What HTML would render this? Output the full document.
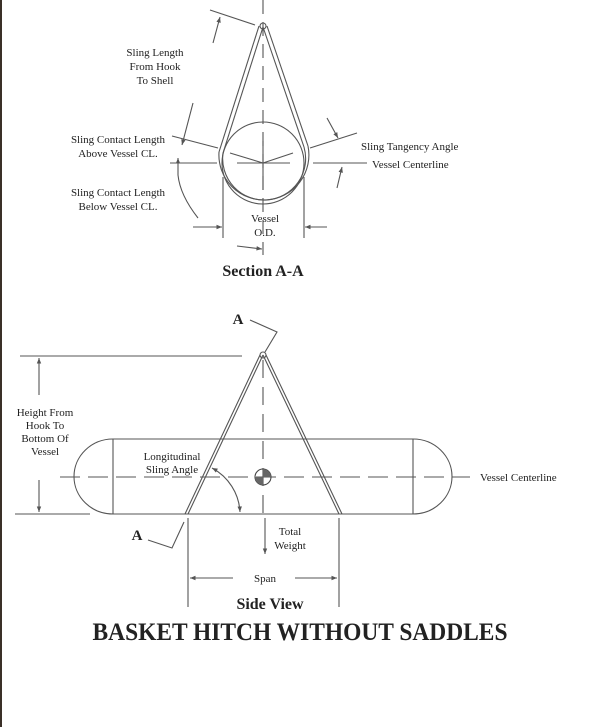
<!DOCTYPE html>
<html><head><meta charset="utf-8"><style>
html,body{margin:0;padding:0;background:#fff;}
svg{display:block;}
text{font-family:"Liberation Serif",serif;fill:#222;}
</style></head><body>
<svg width="600" height="727" viewBox="0 0 600 727" xmlns="http://www.w3.org/2000/svg">
<defs>
<marker id="ar" viewBox="0 0 10 10" refX="10" refY="5" markerWidth="7" markerHeight="5" orient="auto-start-reverse"><path d="M0,1 L10,5 L0,9 z" fill="#555"/></marker>
</defs>
<rect x="0" y="0" width="2" height="727" fill="#3a3028"/>
<g stroke="#555" stroke-width="1.1" fill="none">
<!-- Section A-A -->
<line x1="263" y1="0" x2="263" y2="255" stroke-dasharray="14,8"/>
<circle cx="263" cy="163" r="41"/>
<path d="M223,153 A41.5,41.5 0 1 0 304,147" />
<path d="M219,152 A45,45 0 1 0 308,146" />
<line x1="263" y1="27" x2="223" y2="153"/>
<line x1="263" y1="27" x2="304" y2="147"/>
<line x1="259" y1="26" x2="219" y2="152"/>
<line x1="267" y1="26" x2="308" y2="146"/>
<circle cx="263" cy="26" r="3"/>
<line x1="170" y1="163" x2="217" y2="163"/>
<line x1="237" y1="163" x2="290" y2="163"/>
<line x1="313" y1="163" x2="367" y2="163"/>
<line x1="263" y1="141" x2="263" y2="190"/>
<line x1="263" y1="163" x2="230" y2="153"/>
<line x1="263" y1="163" x2="293" y2="153"/>
<line x1="172" y1="136" x2="218" y2="148"/>
<line x1="310" y1="148" x2="357" y2="133"/>
<line x1="210" y1="10" x2="255" y2="25"/>
<line x1="213" y1="43" x2="220" y2="17" marker-end="url(#ar)"/>
<line x1="193" y1="103" x2="182" y2="145" marker-end="url(#ar)"/>
<line x1="178" y1="175" x2="178" y2="158" marker-end="url(#ar)"/>
<path d="M198,218 Q180,195 178,175"/>
<line x1="327" y1="118" x2="338" y2="138" marker-end="url(#ar)"/>
<line x1="337" y1="188" x2="342" y2="167" marker-end="url(#ar)"/>
<line x1="223" y1="177" x2="223" y2="238"/>
<line x1="304" y1="177" x2="304" y2="238"/>
<line x1="193" y1="227" x2="222" y2="227" marker-end="url(#ar)"/>
<line x1="327" y1="227" x2="305" y2="227" marker-end="url(#ar)"/>
<line x1="237" y1="246" x2="262" y2="249" marker-end="url(#ar)"/>
<!-- Side view -->
<path d="M113,439 L413,439 A39,37.5 0 0 1 413,514 L113,514 A39,37.5 0 0 1 113,439 Z"/>
<line x1="113" y1="439" x2="113" y2="514"/>
<line x1="413" y1="439" x2="413" y2="514"/>
<line x1="60" y1="477" x2="470" y2="477" stroke-dasharray="20,8"/>
<line x1="263" y1="360" x2="263" y2="520" stroke-dasharray="18,9"/>
<circle cx="263" cy="355" r="3"/>
<line x1="263" y1="355" x2="188" y2="514"/>
<line x1="263" y1="355" x2="339" y2="514"/>
<line x1="260" y1="355" x2="185" y2="514"/>
<line x1="266" y1="355" x2="342" y2="514"/>
<circle cx="263" cy="477" r="8" stroke="#444"/>
<path d="M263,477 L263,469 A8,8 0 0 1 271,477 Z M263,477 L263,485 A8,8 0 0 1 255,477 Z" fill="#666" stroke="none"/>
<line x1="20" y1="356" x2="242" y2="356"/>
<line x1="15" y1="514" x2="90" y2="514"/>
<line x1="39" y1="395" x2="39" y2="358" marker-end="url(#ar)"/>
<line x1="39" y1="480" x2="39" y2="512" marker-end="url(#ar)"/>
<path d="M212,468 A53,53 0 0 1 240,512" marker-start="url(#ar)" marker-end="url(#ar)"/>
<line x1="265" y1="518" x2="265" y2="554" marker-end="url(#ar)"/>
<line x1="188" y1="518" x2="188" y2="607"/>
<line x1="339" y1="518" x2="339" y2="607"/>
<line x1="233" y1="578" x2="190" y2="578" marker-end="url(#ar)"/>
<line x1="295" y1="578" x2="337" y2="578" marker-end="url(#ar)"/>
<polyline points="250,320 277,332 265,352"/>
<polyline points="148,540 172,548 184,522"/>
</g>
<g font-size="11" text-anchor="middle">
<text x="155" y="56">Sling Length</text>
<text x="155" y="70">From Hook</text>
<text x="155" y="84">To Shell</text>
<text x="118" y="143">Sling Contact Length</text>
<text x="118" y="157">Above Vessel CL.</text>
<text x="118" y="196">Sling Contact Length</text>
<text x="118" y="210">Below Vessel CL.</text>
<text x="265" y="222">Vessel</text>
<text x="265" y="236">O.D.</text>
<text x="45" y="416">Height From</text>
<text x="45" y="429">Hook To</text>
<text x="45" y="442">Bottom Of</text>
<text x="45" y="455">Vessel</text>
<text x="172" y="460">Longitudinal</text>
<text x="172" y="473">Sling Angle</text>
<text x="290" y="535">Total</text>
<text x="290" y="549">Weight</text>
<text x="265" y="582">Span</text>
</g>
<g font-size="11">
<text x="361" y="150">Sling Tangency Angle</text>
<text x="372" y="168">Vessel Centerline</text>
<text x="480" y="481">Vessel Centerline</text>
</g>
<g font-weight="bold" text-anchor="middle">
<text x="263" y="276" font-size="16">Section A-A</text>
<text x="270" y="609" font-size="16">Side View</text>
<text x="238" y="324" font-size="15">A</text>
<text x="137" y="540" font-size="15">A</text>
<text x="300" y="640" font-size="25" textLength="415" lengthAdjust="spacingAndGlyphs">BASKET HITCH WITHOUT SADDLES</text>
</g>
</svg>
</body></html>
